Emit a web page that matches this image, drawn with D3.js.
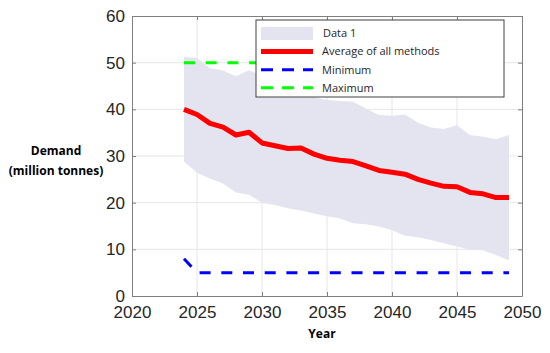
<!DOCTYPE html>
<html lang="en">
<head>
<meta charset="UTF-8">
<script src="https://cdnjs.cloudflare.com/ajax/libs/d3/7.8.5/d3.min.js"></script>
<style>
  body { margin: 0; background: #fff; }
  svg { display: block; }
</style>
</head>
<body>
<div id="chart"></div>
<script>
// data
var years = [2024, 2025, 2026, 2027, 2028, 2029, 2030, 2031, 2032, 2033, 2034, 2035, 2036,
             2037, 2038, 2039, 2040, 2041, 2042, 2043, 2044, 2045, 2046, 2047, 2048, 2049];
var average = [40.0, 38.9, 37.0, 36.2, 34.5, 35.1, 32.8, 32.2, 31.6, 31.7, 30.4, 29.5, 29.1,
               28.8, 27.9, 26.9, 26.5, 26.1, 25.0, 24.2, 23.5, 23.4, 22.2, 21.9, 21.1, 21.1];
var upper = [51.2, 51.0, 48.8, 48.3, 47.1, 48.4, 47.2, 45.8, 44.6, 43.5, 42.6, 42.0, 41.8,
             41.6, 40.2, 38.8, 38.6, 38.9, 37.1, 36.1, 35.8, 36.6, 34.5, 34.1, 33.6, 34.5];
var lower = [28.8, 26.4, 25.2, 24.1, 22.2, 21.7, 20.0, 19.5, 18.8, 18.3, 17.7, 17.1, 16.6,
             15.6, 15.4, 14.9, 14.1, 12.9, 12.6, 12.0, 11.3, 10.6, 9.9, 9.8, 8.8, 7.6];
var minimum = [8.0, 5, 5, 5, 5, 5, 5, 5, 5, 5, 5, 5, 5, 5, 5, 5, 5, 5, 5, 5, 5, 5, 5, 5, 5, 5];
var maximum = [50, 50, 50, 50, 50, 50, 50, 50, 50, 50, 50, 50, 50, 50, 50, 50, 50, 50, 50, 50, 50, 50, 50, 50, 50, 50];
var xTicks = [2020, 2025, 2030, 2035, 2040, 2045, 2050];
var yTicks = [0, 10, 20, 30, 40, 50, 60];
var legendLabels = ['Data 1', 'Average of all methods', 'Minimum', 'Maximum'];

var width = 550, height = 353;
var pLeft = 132, pRight = 522, pTop = 16, pBottom = 296;

var svg = d3.select('#chart').append('svg')
    .attr('width', width)
    .attr('height', height);

var x = d3.scaleLinear().domain([2020, 2050]).range([pLeft, pRight]);
var y = d3.scaleLinear().domain([0, 60]).range([pBottom, pTop]);

// grid
svg.append('g').selectAll('line')
    .data(xTicks.slice(1, -1))
    .enter().append('line')
    .attr('x1', function (d) { return x(d); })
    .attr('x2', function (d) { return x(d); })
    .attr('y1', pTop).attr('y2', pBottom)
    .attr('stroke', '#e6e6e6').attr('stroke-width', 1);
svg.append('g').selectAll('line')
    .data(yTicks.slice(1, -1))
    .enter().append('line')
    .attr('y1', function (d) { return y(d); })
    .attr('y2', function (d) { return y(d); })
    .attr('x1', pLeft).attr('x2', pRight)
    .attr('stroke', '#e6e6e6').attr('stroke-width', 1);

var pts = years.map(function (yr, i) {
    return { year: yr, avg: average[i], hi: upper[i], lo: lower[i], min: minimum[i], max: maximum[i] };
});

// band
var band = d3.area()
    .x(function (d) { return x(d.year); })
    .y0(function (d) { return y(d.lo); })
    .y1(function (d) { return y(d.hi); });
svg.append('path')
    .attr('d', band(pts))
    .attr('fill', '#e3e4f0');

function lineOf(key) {
    return d3.line()
        .x(function (d) { return x(d.year); })
        .y(function (d) { return y(d[key]); });
}

svg.append('path')
    .attr('d', lineOf('max')(pts))
    .attr('fill', 'none')
    .attr('stroke', '#00ff00')
    .attr('stroke-width', 3)
    .attr('stroke-dasharray', '11,10.7');

svg.append('path')
    .attr('d', lineOf('min')(pts))
    .attr('fill', 'none')
    .attr('stroke', '#0000ff')
    .attr('stroke-width', 3)
    .attr('stroke-dasharray', '11,10.7');

svg.append('path')
    .attr('d', lineOf('avg')(pts))
    .attr('fill', 'none')
    .attr('stroke', '#ff0000')
    .attr('stroke-width', 5)
    .attr('stroke-linejoin', 'round');

// axes box with inward ticks
var axisColor = '#7f7f7f';
var xAxisB = svg.append('g')
    .attr('transform', 'translate(0,' + pBottom + ')')
    .call(d3.axisBottom(x).tickValues(xTicks).tickFormat(d3.format('d')).tickSizeInner(-4).tickSizeOuter(0).tickPadding(10));
var xAxisT = svg.append('g')
    .attr('transform', 'translate(0,' + pTop + ')')
    .call(d3.axisTop(x).tickValues(xTicks).tickFormat('').tickSizeInner(-4).tickSizeOuter(0));
var yAxisL = svg.append('g')
    .attr('transform', 'translate(' + pLeft + ',0)')
    .call(d3.axisLeft(y).tickValues(yTicks).tickSizeInner(-4).tickSizeOuter(0).tickPadding(7));
var yAxisR = svg.append('g')
    .attr('transform', 'translate(' + pRight + ',0)')
    .call(d3.axisRight(y).tickValues(yTicks).tickFormat('').tickSizeInner(-4).tickSizeOuter(0));

[xAxisB, xAxisT, yAxisL, yAxisR].forEach(function (a) {
    a.select('.domain').attr('stroke', axisColor);
    a.selectAll('.tick line').attr('stroke', axisColor);
    a.selectAll('text')
        .attr('fill', '#262626')
        .style('font-family', '"Liberation Sans", Arial, sans-serif')
        .style('font-size', '17px');
});
xAxisB.selectAll('text').attr('dy', '0.71em');

// axis titles
svg.append('text')
    .attr('x', 322).attr('y', 338)
    .attr('text-anchor', 'middle')
    .style('font-family', '"Open Sans", sans-serif')
    .style('font-weight', 700)
    .style('font-size', '12px')
    .text('Year');

var yt = svg.append('text')
    .attr('text-anchor', 'middle')
    .style('font-family', '"Open Sans", sans-serif')
    .style('font-weight', 700)
    .style('font-size', '12px');
yt.append('tspan').attr('x', 56).attr('y', 155).text('Demand');
yt.append('tspan').attr('x', 56).attr('y', 175).text('(million tonnes)');

// legend
var lg = svg.append('g').attr('transform', 'translate(256,20)');
lg.append('rect')
    .attr('width', 248).attr('height', 77)
    .attr('fill', '#fff')
    .attr('stroke', '#404040')
    .attr('stroke-width', 1);

var rowY = function (i) { return 13.5 + i * 18.1; };
lg.append('rect')
    .attr('x', 5).attr('y', rowY(0) - 6.5)
    .attr('width', 52).attr('height', 13)
    .attr('fill', '#e3e4f0');
lg.append('line')
    .attr('x1', 5).attr('x2', 57).attr('y1', rowY(1)).attr('y2', rowY(1))
    .attr('stroke', '#ff0000').attr('stroke-width', 5);
lg.append('line')
    .attr('x1', 5).attr('x2', 57).attr('y1', rowY(2)).attr('y2', rowY(2))
    .attr('stroke', '#0000ff').attr('stroke-width', 3).attr('stroke-dasharray', '12,9');
lg.append('line')
    .attr('x1', 5).attr('x2', 57).attr('y1', rowY(3)).attr('y2', rowY(3))
    .attr('stroke', '#00ff00').attr('stroke-width', 3).attr('stroke-dasharray', '12,9');

lg.selectAll('.lbl')
    .data(legendLabels)
    .enter().append('text')
    .attr('class', 'lbl')
    .attr('x', function (d, i) { return i === 0 ? 67 : 66; })
    .attr('y', function (d, i) { return rowY(i); })
    .attr('dy', '0.35em')
    .attr('fill', '#262626')
    .style('font-family', '"Open Sans", sans-serif')
    .style('font-size', '11px')
    .text(function (d) { return d; });
</script>
</body>
</html>
